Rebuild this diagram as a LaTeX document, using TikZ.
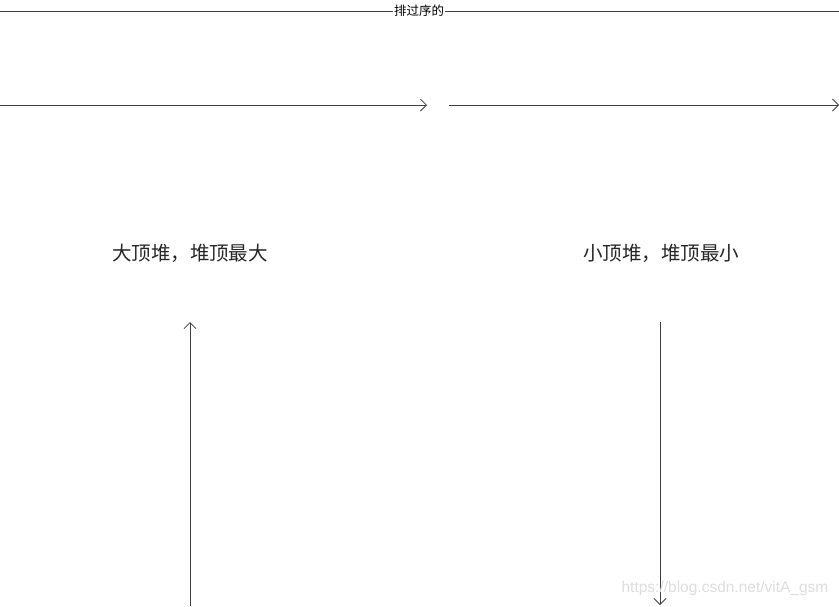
\documentclass[tikz,border=0pt]{standalone}
\usetikzlibrary{arrows.meta}
\usepackage{fontspec}
\setsansfont{Liberation Sans}
\newfontfamily\cjk{Noto Sans CJK SC}
\begin{document}
\begin{tikzpicture}[x=1pt,y=-1pt,
  conn/.style={draw=black!75, line width=0.8pt},
  arr/.style={conn, -{Straight Barb[length=6pt,width=12pt,line width=0.8pt]}},
  lbl/.style={font=\cjk\fontsize{19.5}{22}\selectfont, text=black!85, inner sep=0pt},
  ttl/.style={font=\cjk\fontsize{12.5}{14}\selectfont, fill=white, inner sep=0.5pt}]
\useasboundingbox[fill=white] (0,0) rectangle (839,606);
\coordinate (tl) at (0,11);
\coordinate (tr) at (839,11);
\node[ttl] (title) at (419,11) {排过序的};
\draw[conn] (tl) -- (title.west);
\draw[conn] (title.east) -- (tr);
\coordinate (a1s) at (0,105);
\coordinate (a1e) at (427,105);
\coordinate (a2s) at (449,105);
\coordinate (a2e) at (839,105);
\draw[arr] (a1s) -- (a1e);
\draw[arr] (a2s) -- (a2e);
\node[lbl] (big) at (190,253) {大顶堆，堆顶最大};
\node[lbl] (small) at (661,253) {小顶堆，堆顶最小};
\coordinate (u1) at (190,606);
\coordinate (u2) at (190,322);
\coordinate (d1) at (660,322);
\coordinate (d2) at (660,605);
\draw[arr] (u1) -- (u2);
\draw[arr] (d1) -- (d2);
\node[font=\sffamily\fontsize{15.5}{17}\selectfont, text=black!13, inner sep=0pt] (wm) at (725,588) {https://blog.csdn.net/vitA\_gsm};
\end{tikzpicture}
\end{document}
